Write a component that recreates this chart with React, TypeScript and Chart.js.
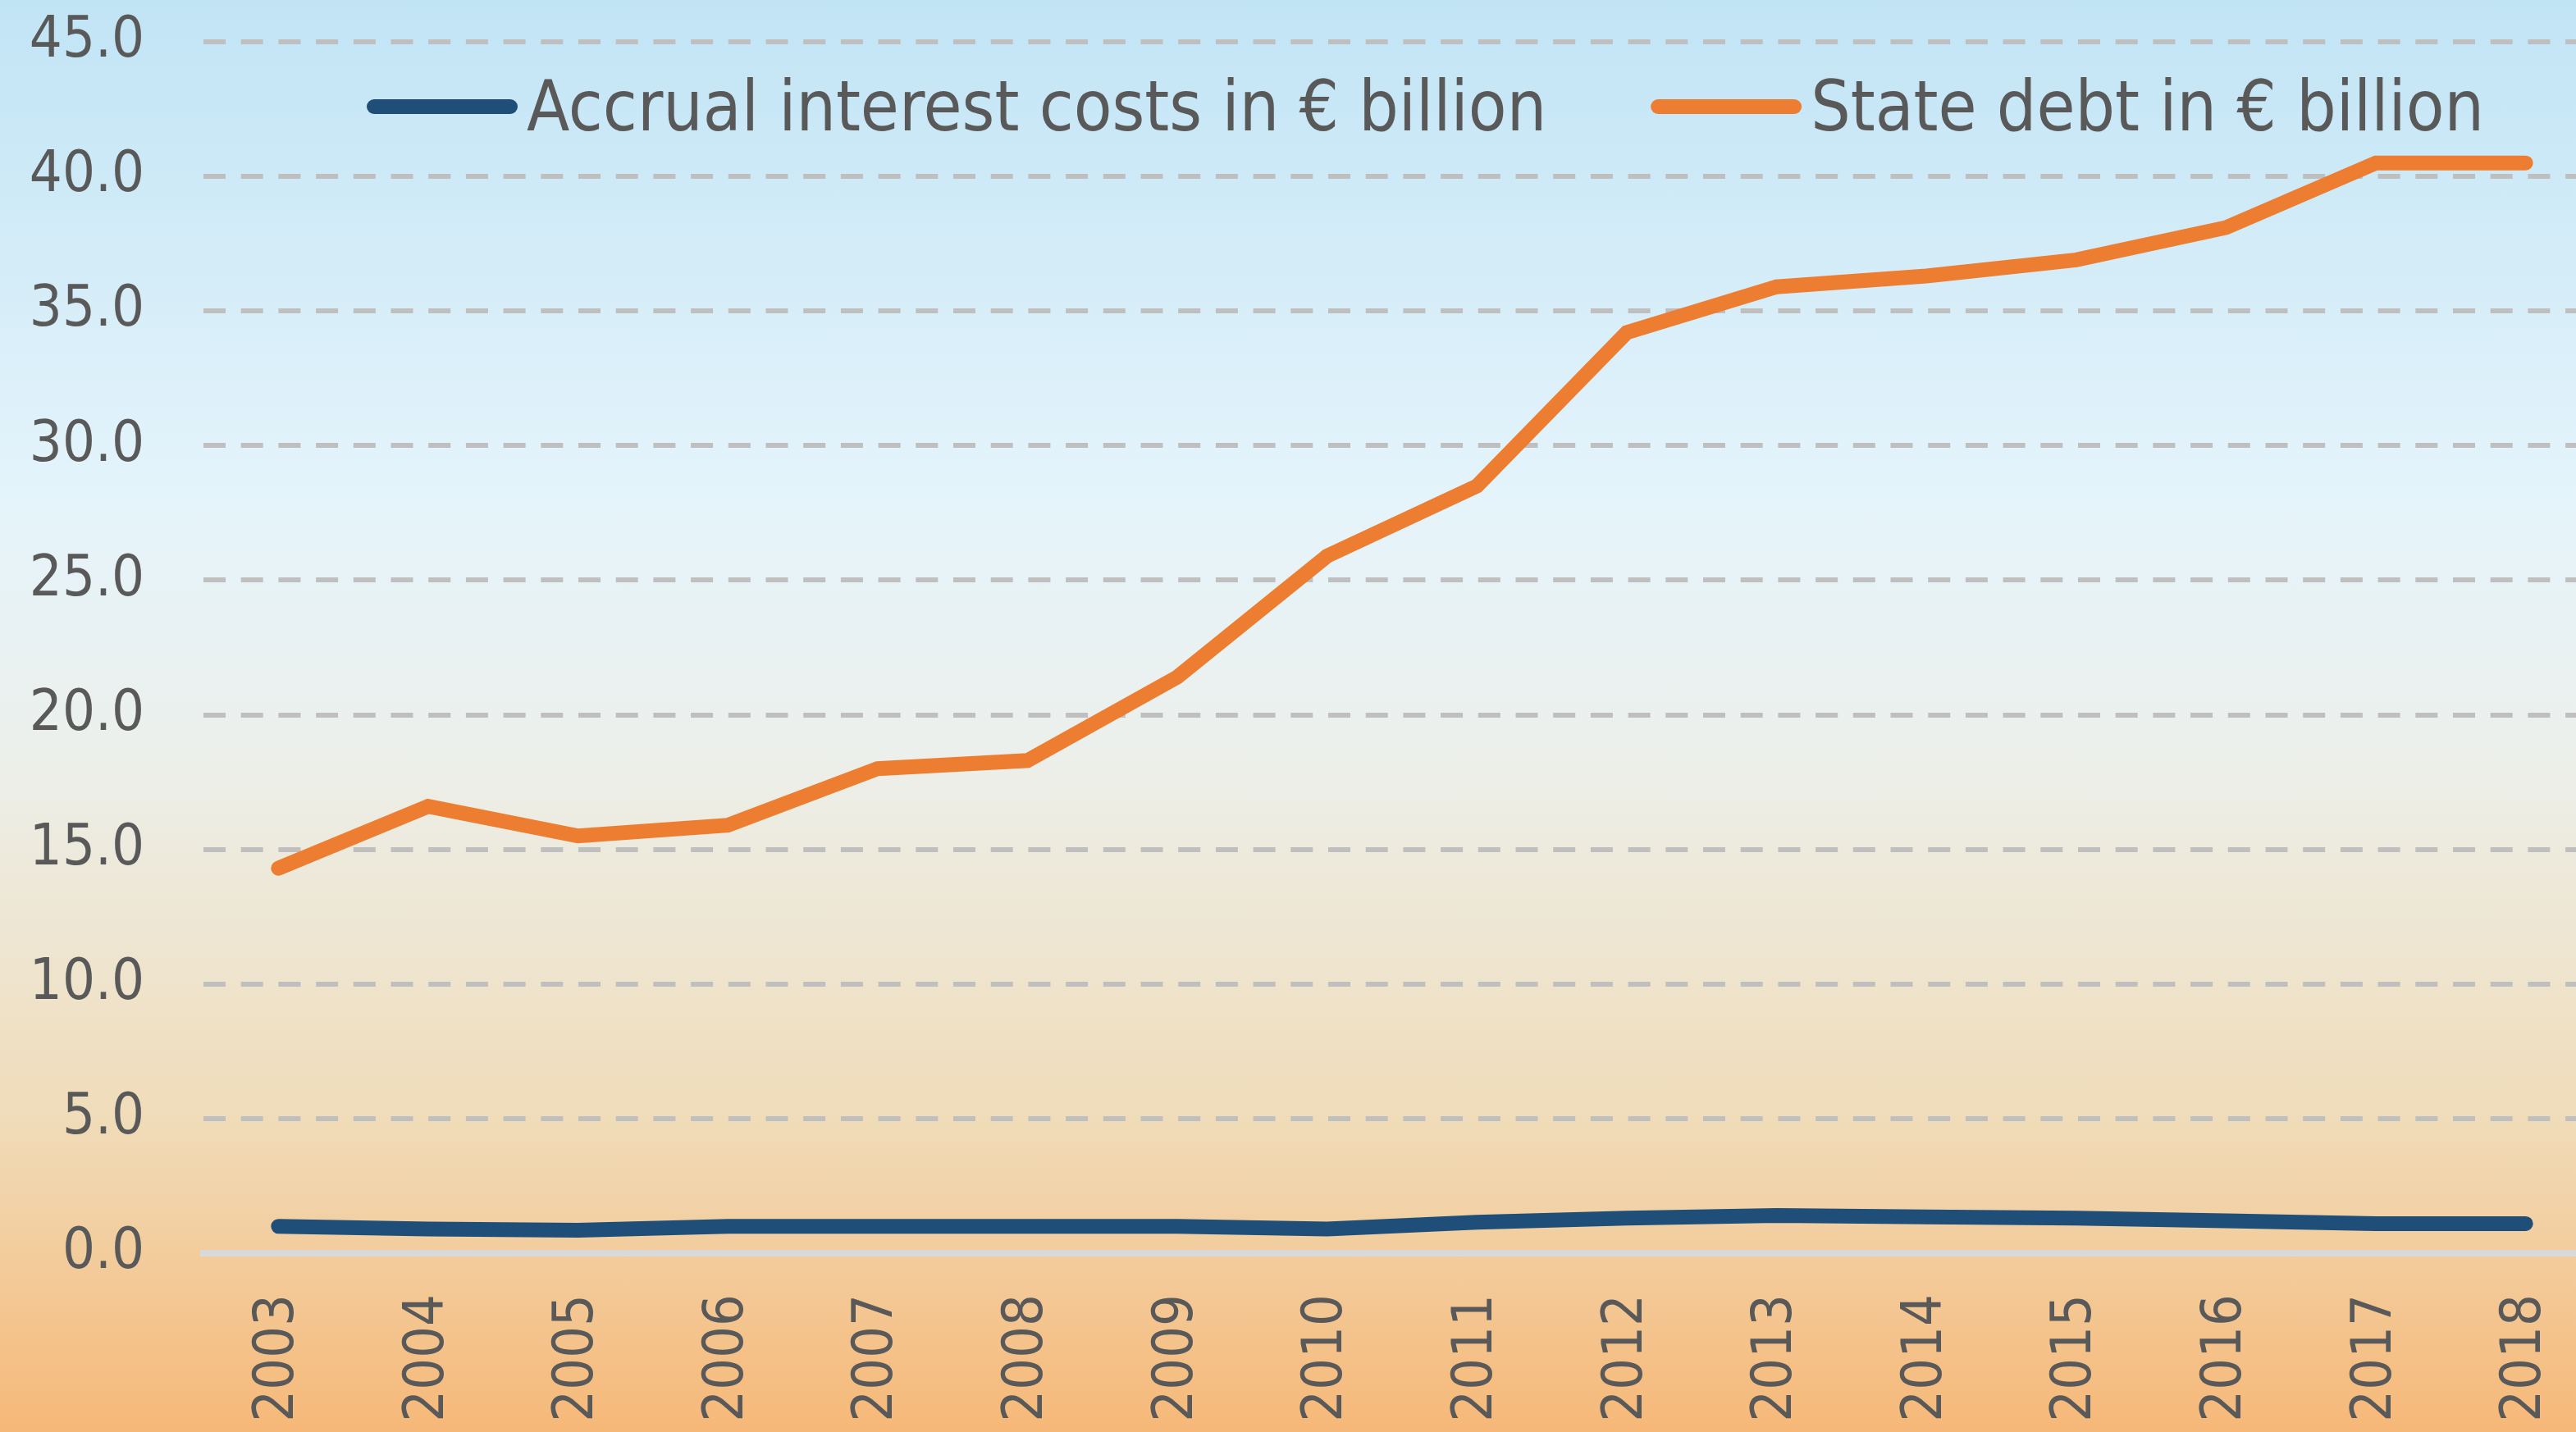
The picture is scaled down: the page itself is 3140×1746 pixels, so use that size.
import React, { useEffect, useRef } from "react";
import { Chart, registerables } from "chart.js";

Chart.register(...registerables);

const years = ["2003", "2004", "2005", "2006", "2007", "2008", "2009", "2010", "2011", "2012", "2013", "2014", "2015", "2016", "2017", "2018"];
const interestCosts = [1.0, 0.9, 0.85, 1.0, 1.0, 1.0, 1.0, 0.9, 1.15, 1.3, 1.4, 1.35, 1.3, 1.2, 1.1, 1.1];
const stateDebt = [14.3, 16.6, 15.5, 15.9, 18.0, 18.3, 21.4, 25.9, 28.5, 34.2, 35.9, 36.3, 36.9, 38.1, 40.5, 40.5];
const seriesLabels = ["Accrual interest costs in € billion", "State debt in € billion"];
const seriesColors = ["#1f4e79", "#ed7d31"];

const FONT = '"DejaVu Sans Condensed", "DejaVu Sans", sans-serif';
const TEXT = "#595959";

const inlineLegend = {
  id: "inlineLegend",
  afterDatasetsDraw(chart: any) {
    const { ctx, chartArea } = chart;
    ctx.save();
    ctx.font = `85px ${FONT}`;
    ctx.fillStyle = TEXT;
    ctx.textBaseline = "alphabetic";
    ctx.textAlign = "left";
    const y = 130;
    const lineLen = 166;
    let x = chartArea.left + 208;
    chart.data.datasets.forEach((ds: any) => {
      ctx.strokeStyle = ds.borderColor;
      ctx.lineWidth = 18;
      ctx.lineCap = "round";
      ctx.beginPath();
      ctx.moveTo(x, y);
      ctx.lineTo(x + lineLen, y);
      ctx.stroke();
      const tx = x + lineLen + 9 + 11;
      ctx.fillText(ds.label, tx, y + 29);
      x = tx + ctx.measureText(ds.label).width + 127 + 9;
    });
    ctx.restore();
  },
};

export default function App() {
  const ref = useRef<HTMLCanvasElement>(null);

  useEffect(() => {
    const chart = new Chart(ref.current as HTMLCanvasElement, {
      type: "line",
      data: {
        labels: years,
        datasets: [
          {
            label: seriesLabels[0],
            data: interestCosts,
            borderColor: seriesColors[0],
            backgroundColor: seriesColors[0],
          },
          {
            label: seriesLabels[1],
            data: stateDebt,
            borderColor: seriesColors[1],
            backgroundColor: seriesColors[1],
          },
        ],
      },
      options: {
        animation: false,
        responsive: false,
        devicePixelRatio: 1,
        layout: { padding: { top: 51, left: 0, right: 0, bottom: 0 } },
        plugins: {
          legend: { display: false },
          tooltip: { enabled: false },
        },
        elements: {
          point: { radius: 0, hoverRadius: 0 },
          line: { borderWidth: 18, borderCapStyle: "round", borderJoinStyle: "miter", tension: 0, fill: false },
        },
        scales: {
          x: {
            type: "category",
            offset: true,
            grid: { display: true, drawOnChartArea: false, drawTicks: false },
            border: { display: true, color: "#d9d9d9", width: 8 },
            ticks: {
              autoSkip: false,
              maxRotation: 90,
              minRotation: 90,
              padding: 50,
              color: TEXT,
              font: { family: FONT, size: 68 },
            },
            afterFit: (s: any) => {
              s.height = 218;
              s.paddingLeft = 0;
              s.paddingRight = 0;
              s.paddingTop = 0;
              s.paddingBottom = 0;
            },
          },
          y: {
            min: 0,
            max: 45,
            ticks: {
              stepSize: 5,
              padding: 72,
              color: TEXT,
              font: { family: FONT, size: 70 },
              callback: (v: any) => Number(v).toFixed(1),
            },
            grid: {
              color: (c: any) => (c.tick && c.tick.value === 0 ? "rgba(0,0,0,0)" : "#bfbfbf"),
              lineWidth: 6,
              drawTicks: false,
            },
            border: { display: false, dash: [27, 18.7] },
            afterFit: (s: any) => {
              s.width = 248;
              s.paddingLeft = 0;
              s.paddingRight = 0;
              s.paddingTop = 0;
              s.paddingBottom = 0;
            },
          },
        },
      },
      plugins: [inlineLegend],
    });
    return () => chart.destroy();
  }, []);

  return (
    <div
      style={{
        position: "fixed",
        left: 0,
        top: 0,
        width: 3140,
        height: 1746,
        overflow: "hidden",
        background:
          "linear-gradient(180deg, #c1e4f5 0%, #e5f4fb 35%, #ecf0ec 52%, #f0dcb9 78%, #f6b878 100%)",
      }}
    >
      <div style={{ width: 3170, height: 1746 }}>
        <canvas ref={ref} width={3170} height={1746} style={{ display: "block" }} />
      </div>
    </div>
  );
}
